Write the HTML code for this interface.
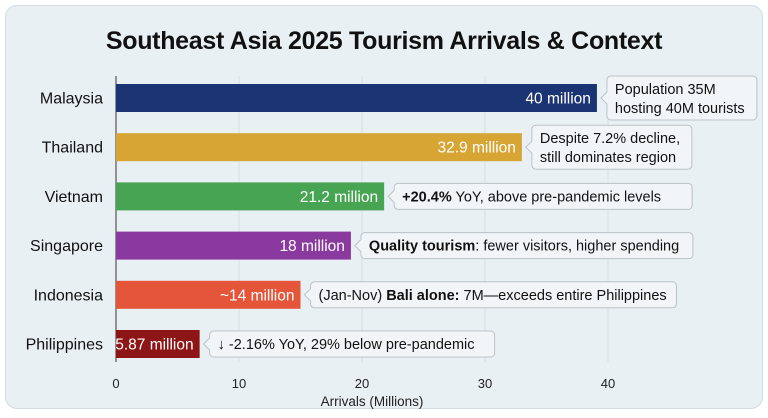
<!DOCTYPE html>
<html><head><meta charset="utf-8"><style>
body{margin:0;width:768px;height:418px;background:#fff;font-family:"Liberation Sans",sans-serif;overflow:hidden}
#card{position:absolute;left:5px;top:5px;width:756px;height:402px;background:#e9f0f3;border:1px solid #d3dce0;border-radius:12px}
#title{position:absolute;left:0;width:768px;top:27px;text-align:center;font-size:25px;font-weight:bold;color:#111;letter-spacing:-0.3px}
</style></head><body>
<div id="card"></div>
<div id="title">Southeast Asia 2025 Tourism Arrivals &amp; Context</div>
<svg id="chart" width="768" height="418" style="position:absolute;left:0;top:0"></svg>
<script>
const categories=["Malaysia","Thailand","Vietnam","Singapore","Indonesia","Philippines"];
const values=[39.1,33.0,21.8,19.1,15.0,6.8];
const valueLabels=["40 million","32.9 million","21.2 million","18 million","~14 million","5.87 million"];
const colors=["#1b3474","#d6a534","#47a452","#8a3a9e","#e4553a","#8e1515"];
const notes=[["Population 35M","hosting 40M tourists"],["Despite 7.2% decline,","still dominates region"],["<tspan font-weight='bold'>+20.4%</tspan> YoY, above pre-pandemic levels"],["<tspan font-weight='bold'>Quality tourism</tspan>: fewer visitors, higher spending"],["(Jan-Nov) <tspan font-weight='bold'>Bali alone:</tspan> 7M—exceeds entire Philippines"],["↓ -2.16% YoY, 29% below pre-pandemic"]];
const noteWidths=[150,160,298,332,366,285];
const ticks=[0,10,20,30,40];
const svg=document.getElementById('chart');
const NS='http://www.w3.org/2000/svg';
const x=v=>116+v*12.3;
const y=i=>84+i*49.2;
const bh=28;
function mk(t,a,p){const e=document.createElementNS(NS,t);for(const k in a)e.setAttribute(k,a[k]);(p||svg).appendChild(e);return e;}
ticks.forEach(t=>{
 const g=mk('line',{x1:x(t),x2:x(t),y1:76,y2:362,stroke:'#d6dfe3','stroke-width':1});
 
 
 const l=mk('text',{x:x(t),y:388,'text-anchor':'middle','font-size':13,fill:'#222'});l.textContent=t;
 
 
});
const ax=mk('line',{x1:116,x2:116,y1:76,y2:362,stroke:'#555','stroke-width':1.2});


const xt=mk('text',{x:372,y:406,'text-anchor':'middle','font-size':13.5,fill:'#222'});xt.textContent='Arrivals (Millions)';


categories.forEach((c,i)=>{
 const yy=y(i),cy=yy+bh/2;
 const lab=mk('text',{x:103,y:cy+5.5,'text-anchor':'end','font-size':16,fill:'#111'});lab.textContent=c;
 
 
 const r=mk('rect',{x:116,y:yy,width:x(values[i])-116,height:bh,fill:colors[i]});
 
 
 const vl=mk('text',{x:x(values[i])-6,y:cy+5.5,'text-anchor':'end','font-size':15.5,fill:'#fff'});vl.textContent=valueLabels[i];
 
 
 const lines=notes[i];const h=lines.length>1?44:26;
 const bx=x(values[i])+10,by=cy-h/2,w=noteWidths[i];
 const p=mk('path',{d:`M${bx+4},${by} h${w-8} a4,4 0 0 1 4,4 v${h-8} a4,4 0 0 1 -4,4 h${-(w-8)} a4,4 0 0 1 -4,-4 v${-(h/2-10)} l-6,-6 l6,-6 v${-(h/2-10)} a4,4 0 0 1 4,-4 z`,fill:'#f2f5f7',stroke:'#b9c3c8','stroke-width':1});
 
 
 lines.forEach((ln,k)=>{
  const t=mk('text',{x:bx+8,y:lines.length>1?cy-4+k*19:cy+5,'font-size':14.5,fill:'#111'});t.innerHTML=ln;
  
  
 });
});
</script>
</body></html>
